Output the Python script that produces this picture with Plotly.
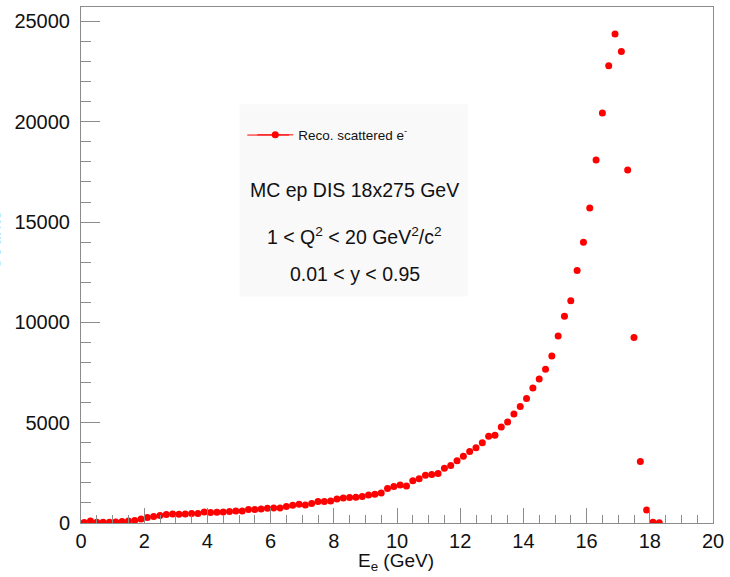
import plotly.graph_objects as go

# Bin centres (GeV) of the scattered-electron energy histogram
energy_gev = [0.1, 0.3, 0.5, 0.7, 0.9, 1.1, 1.3, 1.5, 1.7, 1.9,
              2.1, 2.3, 2.5, 2.7, 2.9, 3.1, 3.3, 3.5, 3.7, 3.9,
              4.1, 4.3, 4.5, 4.7, 4.9, 5.1, 5.3, 5.5, 5.7, 5.9,
              6.1, 6.3, 6.5, 6.7, 6.9, 7.1, 7.3, 7.5, 7.7, 7.9,
              8.1, 8.3, 8.5, 8.7, 8.9, 9.1, 9.3, 9.5, 9.7, 9.9,
              10.1, 10.3, 10.5, 10.7, 10.9, 11.1, 11.3, 11.5, 11.7, 11.9,
              12.1, 12.3, 12.5, 12.7, 12.9, 13.1, 13.3, 13.5, 13.7, 13.9,
              14.1, 14.3, 14.5, 14.7, 14.9, 15.1, 15.3, 15.5, 15.7, 15.9,
              16.1, 16.3, 16.5, 16.7, 16.9, 17.1, 17.3, 17.5, 17.7, 17.9,
              18.1, 18.3]

counts = [30, 100, 40, 40, 40, 50, 80, 100, 130, 200,
          270, 320, 370, 420, 450, 430, 450, 470, 470, 550,
          520, 530, 550, 570, 600, 600, 670, 670, 700, 730,
          750, 750, 820, 880, 930, 900, 970, 1070, 1070, 1100,
          1200, 1250, 1270, 1280, 1320, 1400, 1430, 1500, 1720, 1820,
          1900, 1850, 2100, 2200, 2380, 2420, 2470, 2730, 2870, 3100,
          3330, 3570, 3750, 4000, 4330, 4370, 4780, 5040, 5430, 5810,
          6210, 6730, 7180, 7660, 8320, 9320, 10310, 11080, 12580, 14000,
          15700, 18090, 20440, 22790, 24380, 23500, 17590, 9250, 3060, 650,
          40, 15]

legend_label = "Reco. scattered e<sup>-</sup>"
info_lines = ["MC ep DIS 18x275 GeV",
              "1 < Q<sup>2</sup> < 20 GeV<sup>2</sup>/c<sup>2</sup>",
              "0.01 < y < 0.95"]
x_title = "E<sub>e</sub> (GeV)"
y_title = "Counts"

W, H = 730, 577
L, R, T, B = 80.5, 13, 5.5, 53.7
pw, ph = W - L - R, H - T - B


def px(xp):
    return (xp - L) / pw


def py(yp):
    return (H - B - yp) / ph


FONT = "Liberation Sans, Arial, Helvetica, sans-serif"
AXC = "#8c8c8c"

fig = go.Figure()
fig.add_trace(go.Scatter(
    x=energy_gev, y=counts, mode="markers", name=legend_label,
    marker=dict(color="#ff0000", size=7, symbol="circle", line=dict(width=0)),
    showlegend=False,
))
# legend entry (line + marker, as in ROOT "lep")
fig.add_trace(go.Scatter(
    x=[None], y=[None], mode="lines+markers", name=legend_label,
    line=dict(color="#ff0000", width=1),
    marker=dict(color="#ff0000", size=7),
    showlegend=True,
))

# legend box background
fig.add_shape(type="rect", xref="paper", yref="paper",
              x0=px(240), x1=px(470), y0=py(296), y1=py(103),
              fillcolor="#f9f9f9", line=dict(width=0), layer="below")
# longer legend line segment (ROOT style)
fig.add_shape(type="line", xref="paper", yref="paper",
              x0=px(248), x1=px(290), y0=py(134), y1=py(134),
              line=dict(color="#ff0000", width=1))

for txt, yc in zip(info_lines, [189, 235, 273]):
    fig.add_annotation(text=txt, xref="paper", yref="paper",
                       x=px(356), y=py(yc), xanchor="center", yanchor="middle",
                       showarrow=False, font=dict(size=19.5, color="#111", family=FONT))

fig.add_annotation(text=x_title, xref="paper", yref="paper",
                   x=px(398), y=py(562), xanchor="center", yanchor="middle",
                   showarrow=False, font=dict(size=19, color="#111", family=FONT))
fig.add_annotation(text=y_title, xref="paper", yref="paper",
                   x=px(-7), y=py(240), xanchor="center", yanchor="middle",
                   textangle=-90, showarrow=False,
                   font=dict(size=19, color="#111", family=FONT))

fig.update_layout(
    width=W, height=H,
    margin=dict(l=L, r=R, t=T, b=B, pad=0),
    paper_bgcolor="white", plot_bgcolor="white",
    font=dict(family=FONT, color="#111"),
    legend=dict(x=px(253), y=py(134), xanchor="left", yanchor="middle",
                itemwidth=36,
                bgcolor="rgba(0,0,0,0)", borderwidth=0,
                font=dict(size=13.5, family=FONT, color="#111")),
)
fig.update_xaxes(
    range=[0, 20], showgrid=False, zeroline=False,
    showline=True, linecolor=AXC, linewidth=1, mirror=True,
    ticks="inside", tickmode="linear", tick0=0, dtick=2, ticklen=15,
    tickcolor=AXC, tickwidth=1,
    minor=dict(ticks="inside", dtick=0.5, ticklen=8, tickcolor=AXC, showgrid=False),
    tickfont=dict(size=20, family=FONT, color="#111"),
)
fig.update_yaxes(
    range=[0, 25720], showgrid=False, zeroline=False,
    showline=True, linecolor=AXC, linewidth=1, mirror=True,
    ticks="inside", tickmode="linear", tick0=0, dtick=5000, ticklen=19,
    tickcolor=AXC, tickwidth=1, tickformat="d",
    minor=dict(ticks="inside", dtick=1000, ticklen=10, tickcolor=AXC, showgrid=False),
    tickfont=dict(size=20, family=FONT, color="#111"),
    ticklabelstandoff=6,
)

fig.write_html("out.html")
